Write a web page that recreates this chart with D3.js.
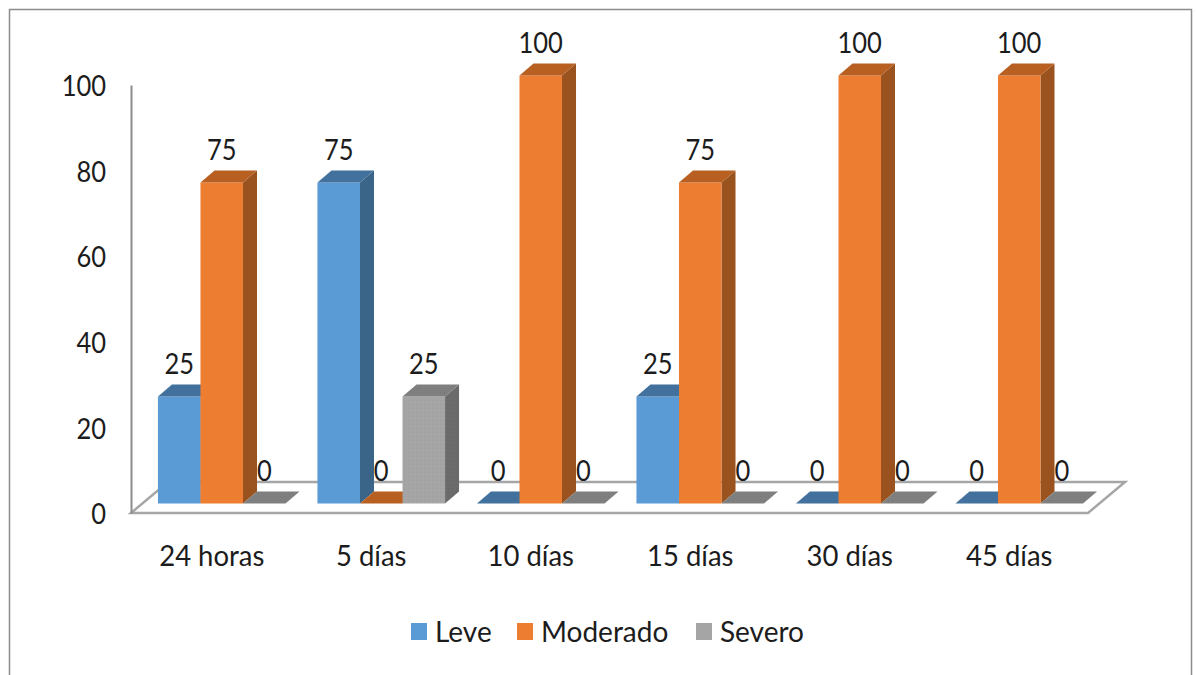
<!DOCTYPE html>
<html lang="es">
<head>
<meta charset="utf-8">
<title>Leve, Moderado, Severo</title>
<script src="https://cdn.jsdelivr.net/npm/d3@7/dist/d3.min.js"></script>
<style>
  html, body { margin: 0; padding: 0; background: #fff; }
  svg { display: block; }
  text { font-family: Lato, "Open Sans", sans-serif; fill: #1c1c1c; }
</style>
</head>
<body>
<svg id="chart" width="1197" height="675"></svg>
<script>
const categories = ["24 horas", "5 días", "10 días", "15 días", "30 días", "45 días"];
const seriesNames = ["Leve", "Moderado", "Severo"];
const leve = [25, 75, 0, 25, 0, 0];
const moderado = [75, 0, 100, 75, 100, 100];
const severo = [0, 25, 0, 0, 0, 0];
const seriesValues = [leve, moderado, severo];
const yTicks = [0, 20, 40, 60, 80, 100];

const faceColors = ["#5b9bd5", "#ed7d31", "#a5a5a5"];
const topColors = ["#41719c", "#b85f22", "#7f7f7f"];
const sideColors = ["#3a6488", "#9a521f", "#6b6b6b"];

const svg = d3.select("#chart");
const width = 1197, height = 675;
const fontSize = 28;

// Narrow a label horizontally: the numerals of the UI font run wider than this chart wants
function narrow(selection, factor) {
  selection.each(function () {
    this.setAttribute("textLength", this.getComputedTextLength() * factor);
    this.setAttribute("lengthAdjust", "spacingAndGlyphs");
  });
}

// Plot plane on the front edge of the floor
const plot = { left: 131, right: 1088, top: 85, bottom: 513 };
// Offset of the bars into the floor, and the depth of each bar
const inset = { x: 11, y: -9.5 };
const depth = { x: 14, y: -12 };
const floorDepth = { x: 37, y: -31 };

const x0 = d3.scaleBand().domain(categories).range([plot.left, plot.right]).paddingInner(0.2).paddingOuter(0.1);
const x1 = d3.scaleBand().domain(seriesNames).range([0, x0.bandwidth()]);
const y = d3.scaleLinear().domain([0, 100]).range([plot.bottom, plot.top]);

// Outer chart frame
svg.append("path")
  .attr("d", `M9.5,${height} V9.5 H1191.5 V${height}`)
  .attr("fill", "none").attr("stroke", "#8c8c8c").attr("stroke-width", 1.5);

// Faint stipple used by the grey series
const defs = svg.append("defs");
[["faceDots", faceColors[2]], ["topDots", topColors[2]], ["sideDots", sideColors[2]]].forEach(([id, base]) => {
  const p = defs.append("pattern").attr("id", id).attr("width", 4).attr("height", 4).attr("patternUnits", "userSpaceOnUse");
  p.append("rect").attr("width", 4).attr("height", 4).attr("fill", base);
  p.append("rect").attr("width", 1).attr("height", 1).attr("fill", d3.color(base).darker(0.15));
});
const fills = {
  face: i => i === 2 ? "url(#faceDots)" : faceColors[i],
  top: i => i === 2 ? "url(#topDots)" : topColors[i],
  side: i => i === 2 ? "url(#sideDots)" : sideColors[i]
};

// Floor of the 3-D plot area
const floorPts = [
  [plot.left, plot.bottom],
  [plot.right, plot.bottom],
  [plot.right + floorDepth.x, plot.bottom + floorDepth.y],
  [plot.left + floorDepth.x, plot.bottom + floorDepth.y]
];
svg.append("polygon")
  .attr("points", floorPts.map(p => p.join(",")).join(" "))
  .attr("fill", "#fff").attr("stroke", "#a6a6a6").attr("stroke-width", 2.5);

// Axes
const yAxis = d3.axisLeft(y).tickValues(yTicks).tickSize(0).tickPadding(25);
const yG = svg.append("g").attr("transform", `translate(${plot.left},0)`).call(yAxis);
yG.select(".domain").attr("stroke", "#8c8c8c").attr("stroke-width", 2);
yG.selectAll("text").attr("font-size", fontSize).attr("dy", "0.38em").style("font-family", "Lato").call(narrow, 0.91);

const xAxis = d3.axisBottom(x0).tickSize(0).tickPadding(28);
const xG = svg.append("g").attr("transform", `translate(1,${plot.bottom})`).call(xAxis);
xG.select(".domain").remove();
xG.selectAll("text").attr("font-size", fontSize).attr("dy", "0.9em").style("font-family", "Lato").call(narrow, 0.98);

// Bars, one prism per value; a zero value leaves only its top face on the floor
const bars = [];
categories.forEach((c, ci) => {
  seriesNames.forEach((s, si) => bars.push({ cat: c, name: s, si, value: seriesValues[si][ci] }));
});
const poly = pts => pts.map(p => p.join(",")).join(" ");
const barG = svg.append("g").selectAll("g").data(bars).join("g");
barG.each(function (d) {
  const g = d3.select(this);
  const xl = x0(d.cat) + x1(d.name) + inset.x;
  const xr = xl + x1.bandwidth();
  const yt = y(d.value) + inset.y;
  const yb = y(0) + inset.y;
  if (d.value > 0) {
    g.append("polygon").attr("fill", fills.side(d.si))
      .attr("points", poly([[xr, yb], [xr + depth.x, yb + depth.y], [xr + depth.x, yt + depth.y], [xr, yt]]));
    g.append("rect").attr("fill", fills.face(d.si))
      .attr("x", xl).attr("y", yt).attr("width", xr - xl).attr("height", yb - yt);
  }
  g.append("polygon").attr("fill", fills.top(d.si))
    .attr("points", poly([[xl, yt], [xr, yt], [xr + depth.x, yt + depth.y], [xl + depth.x, yt + depth.y]]));
});

// Value labels above each bar
svg.append("g").selectAll("text").data(bars).join("text")
  .attr("x", d => x0(d.cat) + x1(d.name) + inset.x + x1.bandwidth() / 2)
  .attr("y", d => y(d.value) + inset.y - 33)
  .attr("dy", "0.36em")
  .attr("text-anchor", "middle")
  .attr("font-size", fontSize)
  .text(d => d.value)
  .call(narrow, 0.91);

// Legend
const legendX = d3.scaleOrdinal().domain(seriesNames).range([411, 517, 696]);
const legend = svg.append("g").selectAll("g").data(seriesNames).join("g")
  .attr("transform", d => `translate(${legendX(d)},623)`);
legend.append("rect").attr("width", 16).attr("height", 17).attr("fill", (d, i) => faceColors[i]);
legend.append("text").attr("x", 24).attr("y", 9).attr("dy", "0.36em").attr("font-size", fontSize).text(d => d);
</script>
</body>
</html>
